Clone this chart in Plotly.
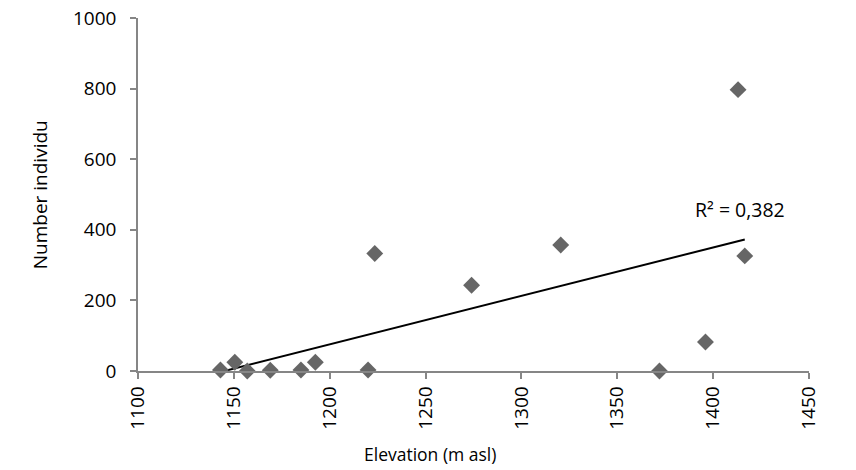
import numpy as np
import plotly.graph_objects as go

elevation = [1143, 1150.5, 1157, 1169, 1185, 1192.5, 1220, 1223.5, 1274, 1320.5, 1372, 1396, 1413, 1416.5]
individuals = [3, 25, 0, 2, 3, 25, 3, 333, 243, 357, 0, 82, 797, 326]
x_ticks = [1100, 1150, 1200, 1250, 1300, 1350, 1400, 1450]
y_ticks = [0, 200, 400, 600, 800, 1000]
r2_label = "R² = 0,382"

x = np.array(elevation, dtype=float)
y = np.array(individuals, dtype=float)
slope, intercept = np.polyfit(x, y, 1)
tx = np.array([x.min(), x.max()])
ty = slope * tx + intercept

FONT = "Open Sans"
AX = "#868686"
PW = 671.0
PH = 353.5

fig = go.Figure()
fig.add_trace(go.Scatter(x=tx, y=ty, mode="lines",
                         line=dict(color="#000000", width=2), showlegend=False,
                         cliponaxis=True))
fig.add_trace(go.Scatter(x=elevation, y=individuals, mode="markers",
                         marker=dict(symbol="diamond", size=13, color="#666666",
                                     line=dict(width=0)),
                         showlegend=False, cliponaxis=False))

fig.update_layout(
    width=856, height=470,
    margin=dict(l=138, r=47, t=18, b=98.5, autoexpand=False),
    paper_bgcolor="white", plot_bgcolor="white",
    font=dict(family=FONT, size=19, color="#000000"),
    xaxis=dict(range=[1100, 1450], tickvals=x_ticks, ticktext=[str(v) for v in x_ticks],
               tickangle=-90, showgrid=False, zeroline=False, automargin=False,
               showline=True, linecolor=AX, linewidth=1.5,
               ticks="outside", ticklen=6, tickcolor=AX, tickwidth=1.5,
               tickfont=dict(family=FONT, size=19, color="#000000")),
    yaxis=dict(range=[0, 1000], tickvals=y_ticks, showgrid=False, zeroline=False,
               automargin=False,
               showline=True, linecolor=AX, linewidth=1.5,
               ticks="outside", ticklen=6, tickcolor=AX, tickwidth=1.5,
               ticklabelstandoff=10,
               tickfont=dict(family=FONT, size=19, color="#000000")),
    annotations=[
        dict(text="Number individu", xref="paper", yref="paper",
             x=(40 - 138) / PW, y=(372 - 196) / PH, xanchor="center", yanchor="middle",
             textangle=-90, showarrow=False, font=dict(family=FONT, size=19)),
        dict(text="Elevation (m asl)", xref="paper", yref="paper",
             x=(430 - 138) / PW, y=-(455 - 372) / PH, xanchor="center", yanchor="middle",
             showarrow=False, font=dict(family=FONT, size=17.5)),
        dict(text=r2_label, x=1414, y=457, xref="x", yref="y",
             xanchor="center", yanchor="middle", showarrow=False,
             font=dict(family=FONT, size=19.5)),
    ],
)

fig.write_html("out.html")
